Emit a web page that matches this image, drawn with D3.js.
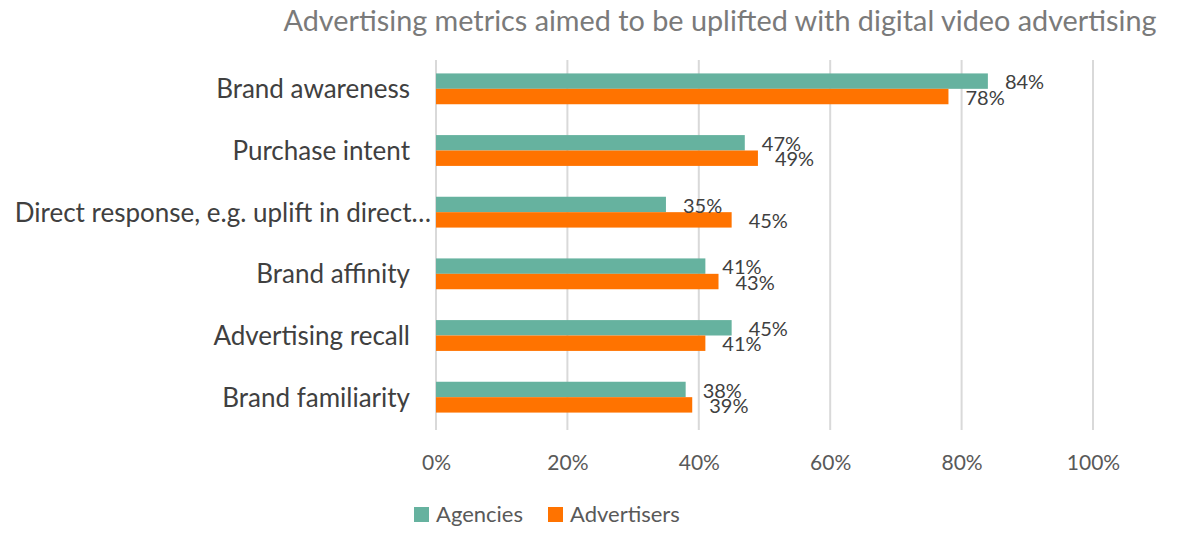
<!DOCTYPE html>
<html><head><meta charset="utf-8">
<script src="https://cdn.jsdelivr.net/npm/d3@7"></script>
<style>body{margin:0;background:#fff}svg{display:block}text{font-family:Lato,"Open Sans",sans-serif}</style>
</head><body>
<script>
const title = "Advertising metrics aimed to be uplifted with digital video advertising";
const categories = ["Brand awareness","Purchase intent","Direct response, e.g. uplift in direct…","Brand affinity","Advertising recall","Brand familiarity"];
const seriesNames = ["Agencies","Advertisers"];
const agencies = [84,47,35,41,45,38];
const advertisers = [78,49,45,43,41,39];
const ticks = [0,20,40,60,80,100];
const colors = ["#66b29f","#ff7300"];

const W=1200,H=555;
const svg=d3.select("body").append("svg").attr("width",W).attr("height",H);
const x=d3.scaleLinear().domain([0,100]).range([436,1093]);
const y=d3.scaleBand().domain(categories).range([58,428]).paddingInner(0.5).paddingOuter(0.25);
const y1=d3.scaleBand().domain(seriesNames).range([0,y.bandwidth()]);

svg.append("text").attr("x",720).attr("y",31).attr("text-anchor","middle")
  .attr("font-size",28.8).attr("fill","#7a7a7a").text(title);

// gridlines
svg.append("g").selectAll("line").data(ticks).join("line")
  .attr("x1",d=>x(d)).attr("x2",d=>x(d)).attr("y1",60).attr("y2",430)
  .attr("stroke","#d9d9d9").attr("stroke-width",2);

// tick labels via axis
const ax=svg.append("g").attr("transform","translate(0,452)")
  .call(d3.axisBottom(x).tickValues(ticks).tickFormat(d=>d+"%").tickSize(0));
ax.select(".domain").remove();
ax.selectAll("text").attr("font-size",21).attr("fill","#595959").attr("dy","0.71em")
  .style("font-family","Lato,'Open Sans',sans-serif");

const data=categories.map((c,i)=>({c,vals:[agencies[i],advertisers[i]]}));
const g=svg.append("g").selectAll("g").data(data).join("g")
  .attr("transform",d=>`translate(0,${y(d.c)})`);
g.selectAll("rect").data(d=>d.vals.map((v,j)=>({v,s:seriesNames[j],j}))).join("rect")
  .attr("x",x(0)).attr("y",d=>y1(d.s)).attr("width",d=>x(d.v)-x(0)).attr("height",y1.bandwidth())
  .attr("fill",d=>colors[d.j]);
g.selectAll("text.lab").data(d=>d.vals.map((v,j)=>({v,s:seriesNames[j],j}))).join("text")
  .attr("class","lab").attr("x",d=>x(d.v)+17).attr("y",d=>y1(d.s)+y1.bandwidth()/2+3)
  .attr("dominant-baseline","middle").attr("font-size",20).attr("fill","#404040").text(d=>d.v+"%");

// category labels
svg.append("g").selectAll("text").data(categories).join("text")
  .attr("x",d=>d.endsWith("…")?431:410).attr("y",d=>y(d)+y.bandwidth()/2+3)
  .attr("text-anchor","end").attr("dominant-baseline","middle")
  .attr("font-size",26).attr("fill","#404040").text(d=>d);

// legend
const lg=svg.append("g");
const lx=[414,548];
seriesNames.forEach((s,i)=>{
  lg.append("rect").attr("x",lx[i]).attr("y",507).attr("width",15).attr("height",15).attr("fill",colors[i]);
  lg.append("text").attr("x",lx[i]+22).attr("y",516).attr("dominant-baseline","middle")
    .attr("font-size",22).attr("fill","#595959").text(s);
});
</script>
</body></html>
